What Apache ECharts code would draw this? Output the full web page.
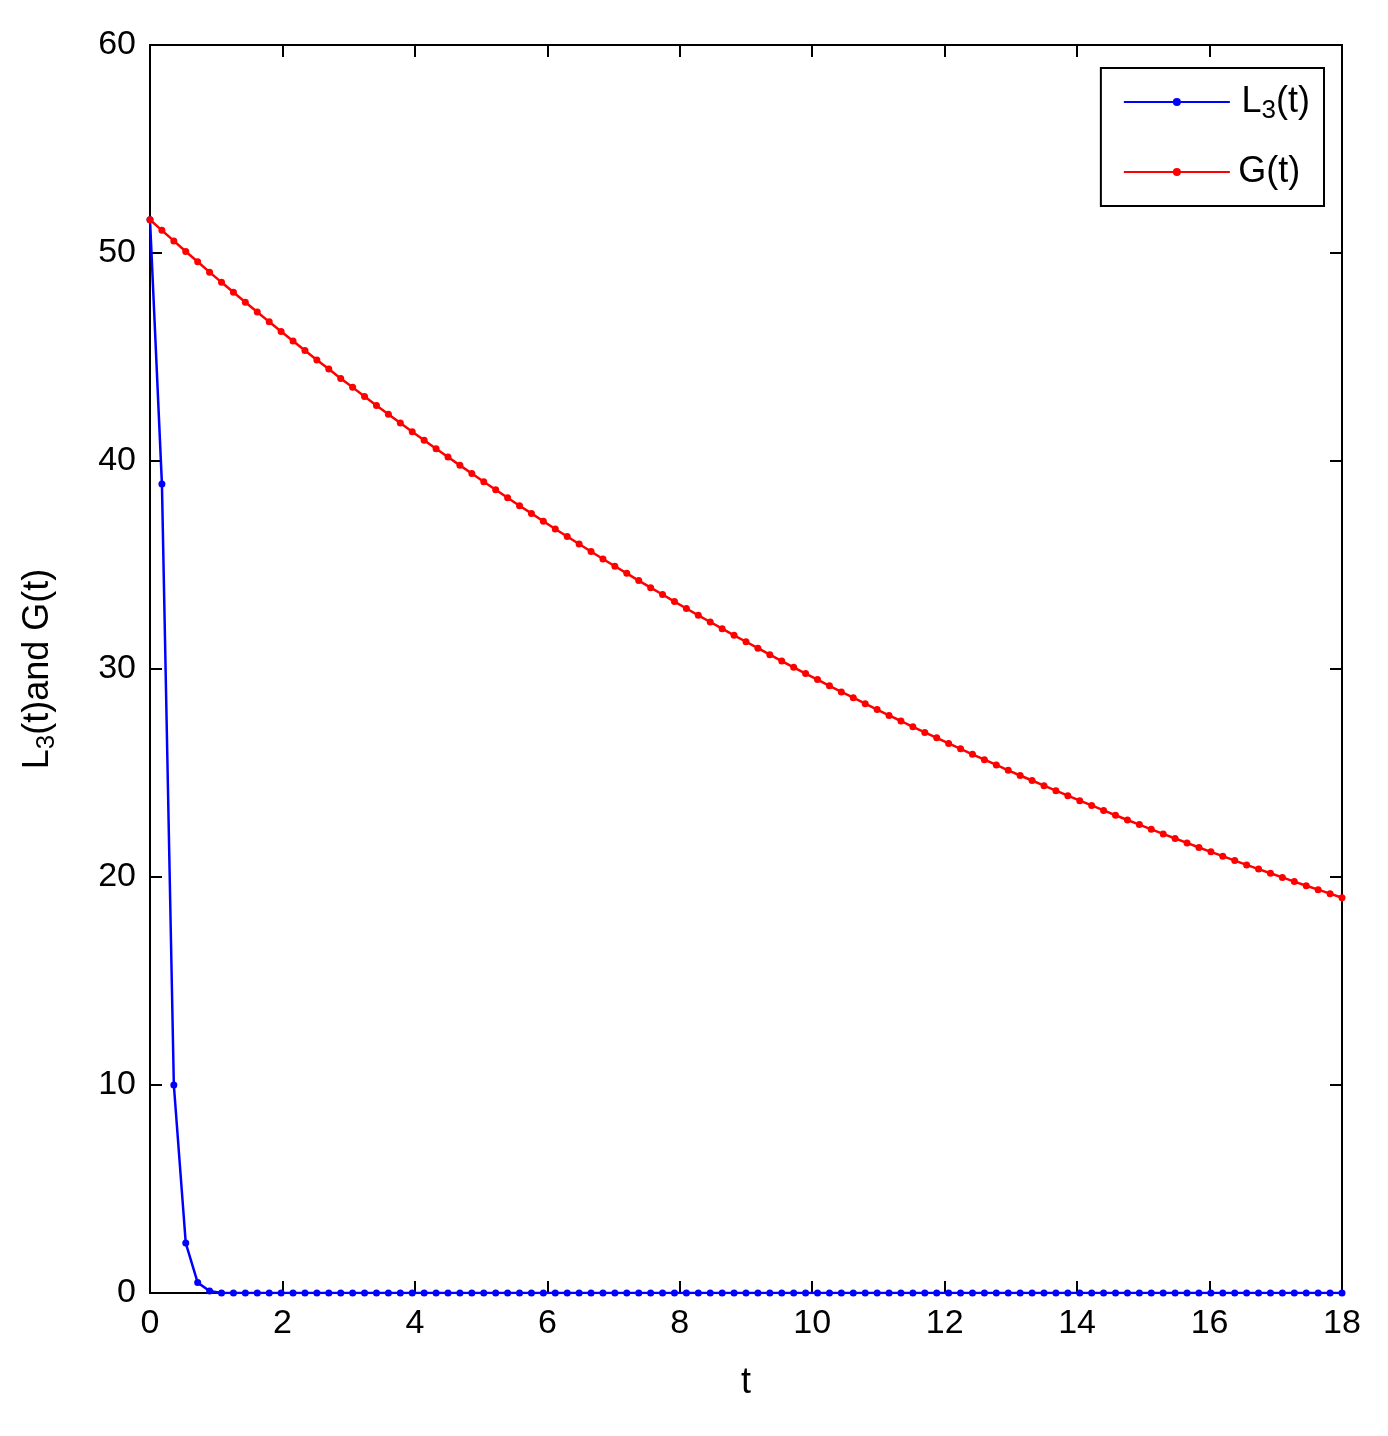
<!DOCTYPE html>
<html>
<head>
<meta charset="utf-8">
<script src="https://cdn.jsdelivr.net/npm/echarts@6/dist/echarts.min.js"></script>
<style>html,body{margin:0;padding:0;background:#fff}#main{width:1388px;height:1436px}</style>
</head>
<body>
<div id="main"></div>
<script>
var tValues = [0,0.18,0.36,0.54,0.72,0.9,1.08,1.26,1.44,1.62,1.8,1.98,2.16,2.34,2.52,2.7,2.88,3.06,3.24,3.42,
  3.6,3.78,3.96,4.14,4.32,4.5,4.68,4.86,5.04,5.22,5.4,5.58,5.76,5.94,6.12,6.3,6.48,6.66,6.84,7.02,
  7.2,7.38,7.56,7.74,7.92,8.1,8.28,8.46,8.64,8.82,9,9.18,9.36,9.54,9.72,9.9,10.08,10.26,10.44,10.62,
  10.8,10.98,11.16,11.34,11.52,11.7,11.88,12.06,12.24,12.42,12.6,12.78,12.96,13.14,13.32,13.5,13.68,13.86,14.04,14.22,
  14.4,14.58,14.76,14.94,15.12,15.3,15.48,15.66,15.84,16.02,16.2,16.38,16.56,16.74,16.92,17.1,17.28,17.46,17.64,17.82,18];
var l3Values = [51.6,38.9,10,2.4,0.5,0.1,0,0,0,0,0,0,0,0,0,0,0,0,0,0,
  0,0,0,0,0,0,0,0,0,0,0,0,0,0,0,0,0,0,0,0,
  0,0,0,0,0,0,0,0,0,0,0,0,0,0,0,0,0,0,0,0,
  0,0,0,0,0,0,0,0,0,0,0,0,0,0,0,0,0,0,0,0,
  0,0,0,0,0,0,0,0,0,0,0,0,0,0,0,0,0,0,0,0,0];
var gValues = [51.60,51.09,50.58,50.07,49.58,49.08,48.59,48.11,47.63,47.16,46.69,46.23,45.77,45.31,44.86,44.42,43.97,43.54,43.10,42.67,
  42.25,41.83,41.41,41.00,40.59,40.19,39.79,39.40,39.00,38.62,38.23,37.85,37.48,37.10,36.73,36.37,36.01,35.65,35.29,34.94,
  34.60,34.25,33.91,33.58,33.24,32.91,32.58,32.26,31.94,31.62,31.31,31.00,30.69,30.38,30.08,29.78,29.49,29.19,28.90,28.62,
  28.33,28.05,27.77,27.50,27.22,26.95,26.69,26.42,26.16,25.90,25.64,25.39,25.13,24.88,24.64,24.39,24.15,23.91,23.67,23.44,
  23.20,22.97,22.74,22.52,22.29,22.07,21.85,21.64,21.42,21.21,21.00,20.79,20.58,20.38,20.18,19.98,19.78,19.58,19.39,19.20,19.00];

var font = "'Liberation Sans Narrow','Liberation Sans',sans-serif";
function pairs(ys) {
	return tValues.map(function(t, i) { return [t, ys[i]]; });
}
function tickAxis(type, max, interval, pos, extra) {
	var ax = {type:'value',min:0,max:max,interval:interval,position:pos,
		axisLine:{show:true,onZero:false,lineStyle:{color:'#000',width:2}},
		axisTick:{show:true,inside:true,length:12,lineStyle:{color:'#000',width:2}},
		axisLabel:{show:false},
		splitLine:{show:false}};
	return Object.assign(ax, extra || {});
}
var chart = echarts.init(document.getElementById('main'));
var lab = {show:true,fontSize:34,fontFamily:font,color:'#000',margin:14};
var rich = {a:{fontSize:36,fontFamily:font,color:'#000'},s:{fontSize:26,fontFamily:font,color:'#000',padding:[18,0,0,0]}};
chart.setOption({
	animation:false,
	grid:{left:150,right:46,top:45,bottom:143,show:true,borderColor:'#000',borderWidth:2},
	legend:{
		right:64, top:68, orient:'vertical',
		backgroundColor:'#fff', borderColor:'#000', borderWidth:2,
		padding:[16,14,16,22], itemWidth:106, itemHeight:10, itemGap:30,
		data:['L3(t)','G(t)'],
		formatter:function(n){ return n === 'L3(t)' ? '  {a|L}{s|3}{a|(t)}' : ' {a|G(t)}'; },
		textStyle:{rich:rich}
	},
	xAxis:[
		tickAxis('x', 18, 2, 'bottom', {name:'t',nameLocation:'middle',nameGap:72,
			nameTextStyle:{fontSize:36,fontFamily:font,color:'#000'},axisLabel:lab}),
		tickAxis('x', 18, 2, 'top')
	],
	yAxis:[
		tickAxis('y', 60, 10, 'left', {name:'{a|L}{s|3}{a|(t)and G(t)}',nameLocation:'middle',nameGap:90,
			nameTextStyle:{rich:rich},axisLabel:lab}),
		tickAxis('y', 60, 10, 'right')
	],
	series:[
		{name:'L3(t)',type:'line',data:pairs(l3Values),symbol:'circle',symbolSize:7,
			lineStyle:{color:'#0000ff',width:2.5},itemStyle:{color:'#0000ff'}},
		{name:'G(t)',type:'line',data:pairs(gValues),symbol:'circle',symbolSize:7,
			lineStyle:{color:'#ff0000',width:2.5},itemStyle:{color:'#ff0000'}},
		{type:'line',xAxisIndex:1,yAxisIndex:1,data:[],silent:true}
	]
});
</script>
</body>
</html>
